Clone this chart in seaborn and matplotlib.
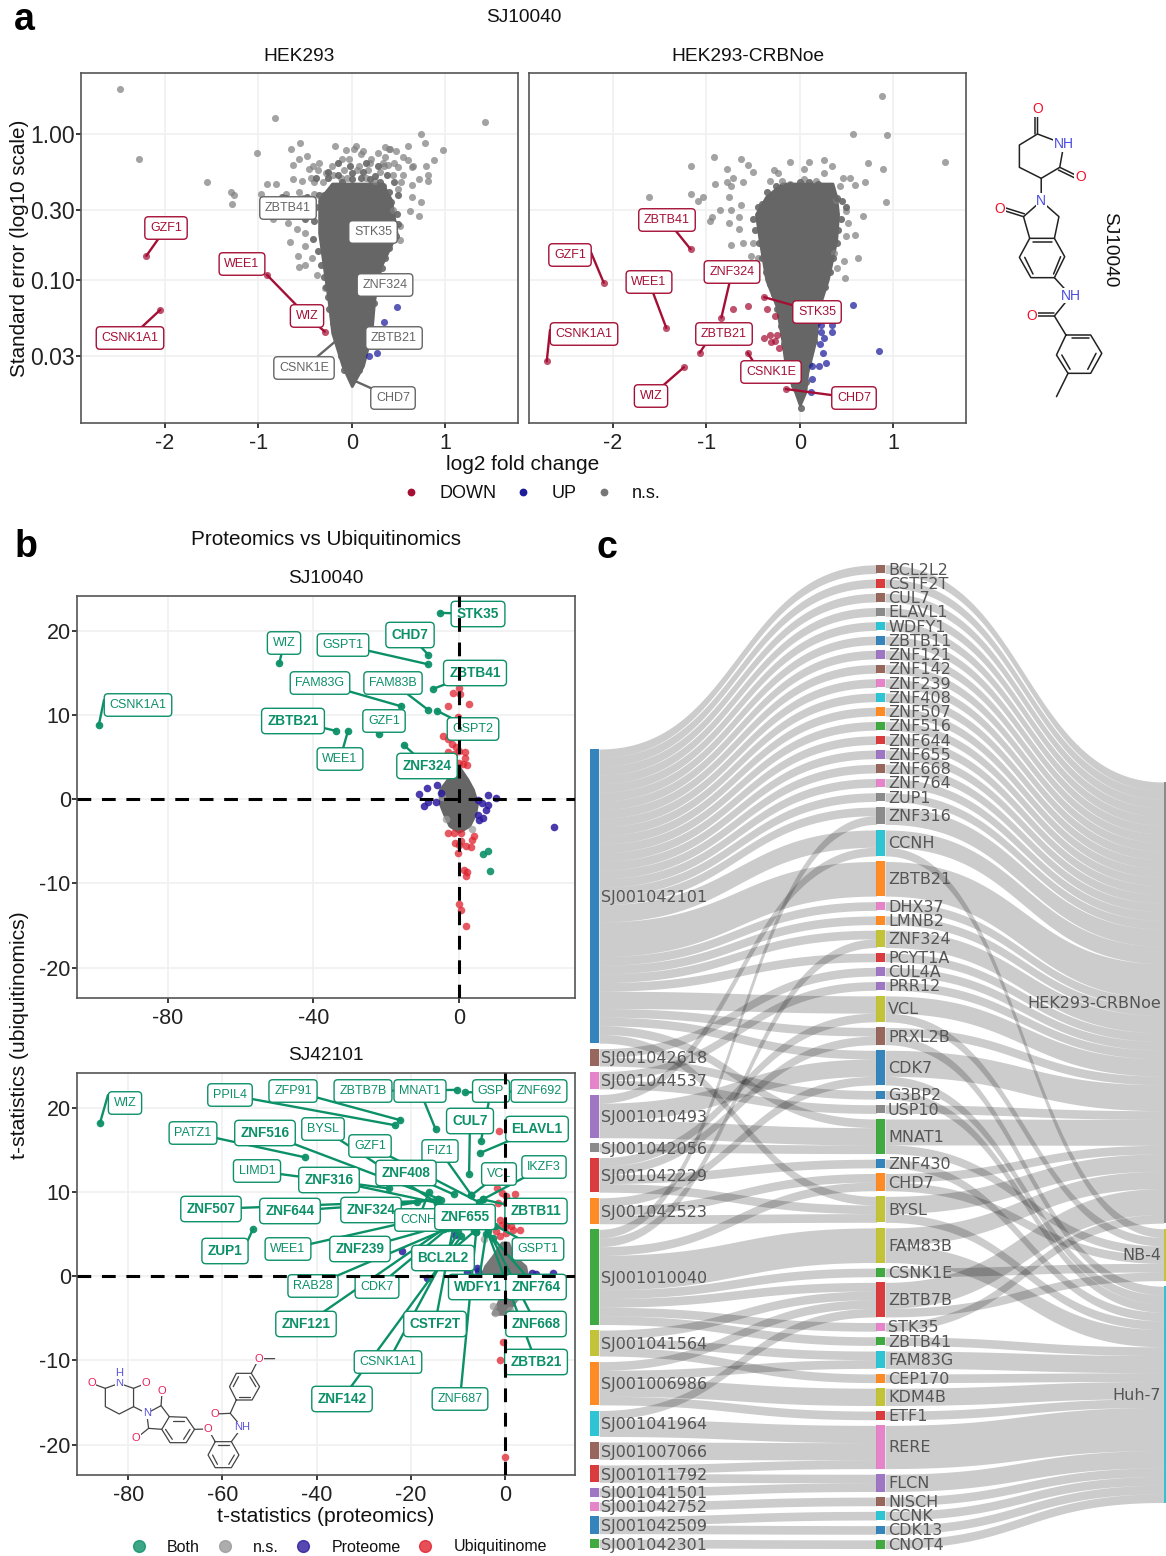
import numpy as np
import pandas as pd
import matplotlib
matplotlib.use("Agg")
import matplotlib.pyplot as plt
from matplotlib.lines import Line2D
from matplotlib.transforms import Affine2D
import seaborn as sns

# ---------------------------------------------------------------- data: panel a
fc_ticks = [-2, -1, 0, 1]
fc_tick_labels = ["-2", "-1", "0", "1"]
se_ticks = [1.0, 0.3, 0.1, 0.03]
se_tick_labels = ["1.00", "0.30", "0.10", "0.03"]

hek_ns_fc = [-2.48,-2.28,-1.55,-1.29,-1.26,-1.28,-.82,-1.01,1.43,.74,.78,.98,.88,.79,.82,.82,.72,.74,.72,.62,.65,.6,.36,.41,.05,-.18,-.06,
             -.56,-.65,-.48,-.57,-.63,-.91,-.81,-.63,-.53,-.41,-.31,-.46,-.36,-.21,-.11,-.03,.1,.21,.36,.55,.6,.66,.39,.17,.3,.44,.55,.64,.53,.64,.5,-.08,.06,
             -.97,-.7,-.57,-.41,-.84,-.68,-.59,-.5,-.66,-.5,-.58,-.57,-.5,-.43,-.37,-.29,.52,.52,.44,
             .12,.2,.28,.34,.45,.5,.15,.25,.33,-.12,-.2,-.28,-.35,-.42,-.52,-.44,.02,-.05,.08,.4,.47]
hek_ns_logse = [.31,-.17,-.33,-.40,-.42,-.48,.11,-.13,.08,0,-.06,-.11,-.18,-.22,-.28,-.32,-.31,-.47,-.56,-.53,-.43,-.08,-.09,-.1,-.08,-.08,-.11,
                -.06,-.1,-.15,-.17,-.21,-.34,-.34,-.31,-.32,-.33,-.33,-.24,-.25,-.22,-.17,-.17,-.14,-.17,-.16,-.16,-.18,-.22,-.21,-.25,-.26,-.28,-.28,-.23,-.33,-.35,-.38,-.25,-.25,
                -.41,-.41,-.40,-.41,-.58,-.61,-.65,-.68,-.74,-.77,-.84,-.91,-.9,-.85,-.97,-1.06,-.63,-.73,-.52,
                -.12,-.2,-.13,-.22,-.2,-.23,-.3,-.32,-.2,-.3,-.28,-.27,-.2,-.22,-.44,-.3,-.1,-.3,-.22,-.1,-.12]
hek_edge_fc = [-.38,-.4,-.42,-.36,-.33,-.3,-.28,-.26,-.24,-.2,-.16,-.12,-.08,.5,.47,.4,.36,.32,.3,.26,.24,.2,.17,.12,.08,
               -.2,-.1,0,.1,.2,.3,-.3,.4,-.15,0,.12,.25,-.25,.33,.42,-.35,-.45,.48,-.5,-.55,-.6,-.48,-.7,-.75,.45,.38,.28,.15,-.02,-.15,-.25,-.38,.5]
hek_edge_logse = [-.5,-.6,-.72,-.8,-.9,-.98,-1.05,-1.12,-1.2,-1.3,-1.42,-1.52,-1.62,-.62,-.7,-.78,-.85,-.92,-1.0,-1.08,-1.16,-1.27,-1.38,-1.5,-1.62,
                  -.36,-.33,-.31,-.3,-.31,-.33,-.42,-.4,-.28,-.27,-.26,-.29,-.3,-.36,-.47,-.42,-.5,-.55,-.58,-.55,-.47,-.43,-.44,-.43,-.33,-.28,-.22,-.2,-.22,-.2,-.26,-.3,-.42]
hek_mass_logse = [-1.73,-1.59,-1.365,-1.14,-.91,-.68,-.45,-.34]
hek_mass_lo = [0,-.10,-.21,-.25,-.30,-.35,-.35,-.21]
hek_mass_hi = [0,.12,.21,.24,.31,.48,.42,.33]
hek_up_fc = [.48,.34,.27,.18]
hek_up_logse = [-1.19,-1.29,-1.5,-1.52]
hek_labels = ["GZF1","CSNK1A1","WEE1","WIZ","ZBTB41","STK35","ZNF324","ZBTB21","CSNK1E","CHD7"]
hek_label_fc = [-2.2,-2.05,-.91,-.29,-.68,.22,.35,.45,-.18,0.0]
hek_label_logse = [-.836,-1.206,-.966,-1.356,-.507,-.67,-1.03,-1.4,-1.425,-1.685]
hek_label_down = [True,True,True,True,False,False,False,False,False,False]

crbn_ns_fc = [.88,.57,.93,1.56,.89,.73,.92,.68,.59,.62,.47,.48,.4,-.92,-.63,-1.17,-.78,-.55,-.5,-.11,.1,.26,.34,.04,-.91,-.78,-.72,-.61,-.74,-.76,
              -1.62,-1.17,-1.04,-1.09,-.85,-.74,-.63,-.94,-.96,-.76,-.65,-.65,-.74,-.61,-.5,-.52,-.45,-.28,-.19,-.32,-.23,-.1,.04,.17,.26,.46,.54,.59,.7,.43,.39,.5,.52,.5,.37]
crbn_ns_logse = [.26,0,-.01,-.19,-.24,-.2,-.47,-.56,-.69,-.85,-.87,-.99,-.92,-.16,-.17,-.22,-.24,-.21,-.26,-.19,-.19,-.18,-.22,-.24,-.34,-.33,-.3,-.33,-.36,-.43,
                 -.43,-.41,-.43,-.46,-.52,-.52,-.49,-.57,-.6,-.61,-.57,-.65,-.76,-.75,-.75,-.84,-.85,-.25,-.32,-.32,-.27,-.34,-.31,-.32,-.27,-.3,-.3,-.35,-.33,-.36,-.45,-.53,-.61,-.7,-.82]
crbn_edge_fc = [-.5,-.48,-.44,-.4,-.36,-.32,-.28,-.24,-.2,-.17,-.12,-.06,.44,.41,.4,.36,.32,.27,.22,.18,.15,.1,.07,
                -.4,-.3,-.2,-.1,0,.1,.2,.3,.4,-.35,-.25,.05,.45,.5,-.45,.01]
crbn_edge_logse = [-.58,-.66,-.75,-.85,-.95,-1.03,-1.1,-1.2,-1.32,-1.44,-1.6,-1.72,-.58,-.66,-.75,-.85,-.95,-1.05,-1.18,-1.3,-1.42,-1.58,-1.7,
                   -.48,-.42,-.37,-.35,-.33,-.33,-.34,-.37,-.44,-.4,-.36,-.38,-.46,-.5,-.5,-1.88]
crbn_mass_logse = [-1.86,-1.77,-1.64,-1.41,-1.18,-1.0,-.73,-.55,-.43,-.34]
crbn_mass_lo = [0,-.05,-.14,-.19,-.25,-.36,-.43,-.47,-.36,-.19]
crbn_mass_hi = [0,.06,.08,.17,.21,.30,.39,.41,.39,.35]
crbn_down_fc = [-.71,-.55,-.35,-.27,-.38,-.32,-.24,-.31,-.27,-.22]
crbn_down_logse = [-1.2,-1.18,-1.2,-1.25,-1.4,-1.38,-1.38,-1.43,-1.42,-1.47]
crbn_up_fc = [.57,.85,.23,.34,.34,.23,.26,.22,.25,.28,.21,.13,.13,.12]
crbn_up_logse = [-1.17,-1.49,-1.31,-1.31,-1.36,-1.36,-1.4,-1.44,-1.5,-1.57,-1.59,-1.59,-1.68,-1.77]
crbn_labels = ["ZBTB41","GZF1","WEE1","ZNF324","CSNK1A1","ZBTB21","STK35","CSNK1E","WIZ","CHD7"]
crbn_label_fc = [-1.17,-2.1,-1.43,-.84,-2.71,-1.07,-.38,-.56,-1.24,-.15]
crbn_label_logse = [-.79,-1.02,-1.33,-1.26,-1.56,-1.5,-1.12,-1.5,-1.6,-1.75]

# ---------------------------------------------------------------- data: panel b
top_both_x = [8,6.6,8.4]
top_both_y = [-6.1,-6.5,-8.5]
top_prot_x = [26,10.3,-10.9,-8.7,-6.1,-4.9,-9.7,-8.5,-6.4,7.9,5.3,6.3,7.9,7.4,5.3,6.6,5.5]
top_prot_y = [-3.3,.1,.6,1.3,1.7,.7,-.8,-.4,-.4,.5,-.1,-.5,-.7,-1.3,-1.9,-2.2,-2.5]
top_ubi_x = [-1.7,-.1,.4,2.8,-3,-.4,-4.5,-3,-2,-.7,-3,.1,1.7,-1.5,1.7,1.1,2.2,-.1,-3,-1.5,.6,4.2,3.7,-1.1,.6,-.1,2,3.2,-.4,1.5,2.2,1.9,0,.6,2]
top_ubi_y = [12.6,13.2,12.5,11.3,11,9.8,7.5,7.1,6.5,6.2,5.6,5.7,5.6,5.3,4.9,4.2,4.1,4.3,-4,-4,-4,-4.4,-4.9,-5.2,-5,-5.4,-5.6,-5.7,-6.4,-8.4,-8.7,-9.1,-12.4,-13.1,-15]
top_ns_x = [3.7,-3.5,-4.6]
top_ns_y = [-3.6,-2.4,.3]
top_mass_y = [3.7,2.3,1.1,-.5,-1.7,-3.1,-3.8]
top_mass_lo = [0,-3,-5.1,-5.1,-4,-2.5,0]
top_mass_hi = [0,2.2,3.7,4.8,4.3,2.7,0]
top_labels = ["CSNK1A1","WIZ","WEE1","ZBTB21","GZF1","ZNF324","FAM83G","FAM83B","GSPT2","ZBTB41","GSPT1","CHD7","STK35"]
top_label_x = [-99,-49.4,-30.5,-33.8,-22,-15.1,-15.8,-8.5,-6.1,-7,-8.5,-8.4,-5.2]
top_label_y = [8.8,16.1,8.1,8.1,7.7,6.4,11,10.6,10.5,13.1,16,17.1,22.1]
top_bold = {"ZBTB21","ZNF324","ZBTB41","CHD7","STK35"}

low_labels = ["WIZ","PPIL4","ZFP91","ZBTB7B","GSP","ZNF692","MNAT1","CUL7","ELAVL1","PATZ1","ZNF516","BYSL","GZF1","FIZ1","LIMD1",
              "ZNF408","ZNF316","VCL","IKZF3","ZNF507","ZNF644","ZNF324","CCNH","ZNF655","ZBTB11","GSPT1","WEE1","ZUP1","ZNF239","BCL2L2",
              "RAB28","CDK7","WDFY1","ZNF764","ZNF121","CSTF2T","ZNF668","CSNK1A1","ZBTB21","ZNF142","ZNF687"]
low_label_x = [-86,-23.3,-22.2,-10.1,-5.1,-8.4,-14.7,-7.6,-5.3,-42.5,-14.1,-14.5,-5.6,-7.1,-24.6,
               -10.9,-14.5,-7.1,-4.7,-13.5,-18.6,-14.1,-16.1,-6.1,-4.7,-2,-16,-53.5,-13,-6.5,
               -11.5,-12,-4,-2.5,-13,-11,-3.5,-10,-4.2,-9.3,-6.1]
low_label_y = [18.2,17.9,18.5,22.1,16,21.8,17.4,12.1,14.6,14.1,9.2,8.7,8.8,9.6,10.4,
               9.7,8.7,9.6,9.1,9,8.8,9.2,10,5.2,9.1,6,7,5.6,6,5.3,
               5.8,5.7,5,4.5,5.6,5.7,5.4,5.2,6,4.7,5.2]
low_bold = {"CUL7","ELAVL1","ZNF516","ZNF408","ZNF316","ZNF507","ZNF644","ZNF324","ZNF655","ZBTB11","ZUP1","ZNF239","BCL2L2","WDFY1","ZNF764",
            "ZNF121","CSTF2T","ZNF668","ZBTB21","ZNF142"}
low_prot_x = [-21.8,-10.5,-16.5,-8.1,-5.9,-5.7,5.8,6.6,10.2]
low_prot_y = [3,4.9,-.2,.5,1,.6,.4,.3,.4]
low_ubi_x = [-1.2,-1.6,-.6,.2,-1.4,.2,-1,-.6,.2,1.4,3.3,1.8,-1.8,.2,-1,-.5,-1,0,2.1]
low_ubi_y = [17.2,10.5,9.9,9.5,8.7,8.7,6.7,6.1,5.9,5.9,5.5,5.5,5.3,5.1,4.7,-7.8,-10,-21.5,9.8]
low_ns_x = [-4.5,-2.2,1,2.2,-2.5]
low_ns_y = [4.4,-4.4,-4,-2.6,-3.6]
low_mass_y = [3.9,2.3,1.15,0,-1.2,-2.8,-4.4]
low_mass_lo = [-.6,-2.5,-4.1,-4.9,-1.8,-1,-2.5]
low_mass_hi = [.6,1.8,4.2,4.6,3,2.2,.2]

# ---------------------------------------------------------------- data: panel c
compounds = ["SJ001042101","SJ001042618","SJ001044537","SJ001010493","SJ001042056","SJ001042229","SJ001042523","SJ001010040","SJ001041564",
             "SJ001006986","SJ001041964","SJ001007066","SJ001011792","SJ001041501","SJ001042752","SJ001042509","SJ001042301"]
compound_tone = [0,5,6,4,7,3,1,2,8,1,9,5,3,4,6,0,2]
genes = ["BCL2L2","CSTF2T","CUL7","ELAVL1","WDFY1","ZBTB11","ZNF121","ZNF142","ZNF239","ZNF408","ZNF507","ZNF516","ZNF644","ZNF655","ZNF668","ZNF764","ZUP1",
         "ZNF316","CCNH","ZBTB21","DHX37","LMNB2","ZNF324","PCYT1A","CUL4A","PRR12","VCL","PRXL2B","CDK7","G3BP2","USP10","MNAT1","ZNF430","CHD7","BYSL",
         "FAM83B","CSNK1E","ZBTB7B","STK35","ZBTB41","FAM83G","CEP170","KDM4B","ETF1","RERE","FLCN","NISCH","CCNK","CDK13","CNOT4"]
gene_tone = [5,3,5,7,9,0,4,5,6,9,1,2,3,4,5,6,7,7,9,1,6,1,8,3,4,4,8,5,0,0,7,2,0,1,8,8,2,3,6,2,9,1,8,3,6,4,5,9,0,2]
cell_lines = ["HEK293-CRBNoe","NB-4","Huh-7"]
cell_tone = [7,8,9]
# compound index, gene name, count
compound_links = [(0,g,1) for g in genes[:17]] + [
    (0,"ZNF316",1),(7,"ZNF316",1),(0,"CCNH",2),(3,"CCNH",1),(0,"ZBTB21",4),(0,"DHX37",1),(0,"LMNB2",1),(0,"ZNF324",1),(7,"ZNF324",1),(0,"PCYT1A",1),
    (1,"CUL4A",1),(2,"PRR12",1),(0,"VCL",2),(5,"VCL",1),(0,"PRXL2B",1),(5,"PRXL2B",1),(0,"CDK7",1),(3,"CDK7",2),(6,"CDK7",1),(1,"G3BP2",1),
    (2,"USP10",1),(0,"MNAT1",1),(3,"MNAT1",2),(4,"MNAT1",1),(5,"ZNF430",1),(6,"CHD7",1),(7,"CHD7",1),(5,"BYSL",1),(6,"BYSL",1),(0,"BYSL",1),
    (7,"FAM83B",4),(7,"CSNK1E",1),(7,"ZBTB7B",1),(8,"ZBTB7B",1),(9,"ZBTB7B",1),(10,"ZBTB7B",1),(7,"STK35",1),(7,"ZBTB41",1),(8,"FAM83G",1),
    (9,"FAM83G",1),(8,"CEP170",1),(9,"KDM4B",2),(9,"ETF1",1),(10,"RERE",2),(11,"RERE",2),(12,"RERE",1),(12,"FLCN",1),(13,"FLCN",1),(14,"NISCH",1),
    (15,"CCNK",1),(15,"CDK13",1),(16,"CNOT4",1)]
# gene name, cell line index, count
cell_links = [(g,0,1) for g in genes[:17]] + [
    ("ZNF316",0,2),("CCNH",0,2),("CCNH",1,1),("ZBTB21",0,4),("DHX37",0,1),("LMNB2",0,1),("ZNF324",0,2),("PCYT1A",0,1),("CUL4A",0,1),("PRR12",0,1),
    ("VCL",0,2),("VCL",1,1),("PRXL2B",0,1),("PRXL2B",2,1),("CDK7",0,3),("CDK7",2,1),("G3BP2",2,1),("USP10",0,1),("MNAT1",0,3),("MNAT1",1,1),
    ("ZNF430",2,1),("CHD7",0,1),("CHD7",1,1),("BYSL",0,2),("BYSL",2,1),("FAM83B",0,2),("FAM83B",2,2),("CSNK1E",1,1),("ZBTB7B",0,3),("ZBTB7B",1,1),
    ("STK35",0,1),("ZBTB41",2,1),("FAM83G",2,2),("CEP170",2,1),("KDM4B",2,2),("ETF1",2,1),("RERE",2,5),("FLCN",2,2),("NISCH",2,1),("CCNK",2,1),
    ("CDK13",2,1),("CNOT4",2,1)]

# ---------------------------------------------------------------- style
W, H = 1166, 1556
sns.set_theme(style="whitegrid")
plt.rcParams["font.family"] = ["Liberation Sans", "DejaVu Sans"]
plt.rcParams.update({"axes.edgecolor": "#555555", "axes.linewidth": 1.2, "grid.color": "#f0f0f0", "grid.linewidth": 1.2,
                     "xtick.bottom": True, "ytick.left": True, "xtick.color": "#222222", "ytick.color": "#222222",
                     "xtick.major.size": 3.5, "ytick.major.size": 3.5, "text.color": "#111111"})
fig = plt.figure(figsize=(W / 100, H / 100), dpi=100, facecolor="white")
px = Affine2D().scale(1 / W, -1 / H).translate(0, 1) + fig.transFigure

C_GREY, C_MASS, C_DOWN, C_UP = "#808080", "#666666", "#a50f35", "#1c1c9c"
C_BOTH, C_PROT, C_UBI = "#0c9068", "#2a1a9e", "#e0222e"
TAB = sns.color_palette("tab10")


def axes_px(x0, y0, x1, y1):
    return fig.add_axes([x0 / W, 1 - y1 / H, (x1 - x0) / W, (y1 - y0) / H])


def dots(ax, x, y, color, s=26, alpha=0.72, z=3):
    frame = pd.DataFrame({"x": np.asarray(x, float), "y": np.asarray(y, float)})
    sns.scatterplot(data=frame, x="x", y="y", color=color, s=s, alpha=alpha, linewidth=0, ax=ax, legend=False, zorder=z)
    ax.set_xlabel("")
    ax.set_ylabel("")


def gene_label(ax, x, y, pos, color):
    ax.annotate("", xy=(x, y), xycoords="data", xytext=pos, textcoords=px, annotation_clip=False, zorder=4,
                arrowprops=dict(arrowstyle="-", color=color, lw=1.7, shrinkA=0, shrinkB=0))


def gene_box(ax, name, pos, color, bold=False, size=9.0):
    ax.text(pos[0], pos[1], name, transform=px, color=color, ha="center", va="center", clip_on=False, zorder=5,
            fontsize=size + (0.8 if bold else 0), fontweight="bold" if bold else "normal",
            bbox=dict(boxstyle="round,pad=0.42,rounding_size=0.3", fc="white", ec=color, lw=1.0))


# ---------------------------------------------------------------- panel a
ax_hek = axes_px(81, 73, 518, 423)
ax_crbn = axes_px(529, 73, 966, 423)
for ax in (ax_hek, ax_crbn):
    ax.set_xlim(-2.90, 1.78)
    ax.set_yscale("log")
    ax.set_ylim(0.0104, 2.62)
    ax.set_xticks(fc_ticks, fc_tick_labels, fontsize=15.5)
    ax.set_yticks(se_ticks)
    ax.minorticks_off()
    ax.set_axisbelow(True)

ax_hek.set_yticklabels(se_tick_labels, fontsize=16.5)
ax_crbn.set_yticklabels([])
ax_crbn.tick_params(axis="y", left=False)
ax_hek.tick_params(axis="y", pad=1)

ax_hek.fill_betweenx(10.0 ** np.array(hek_mass_logse), hek_mass_lo, hek_mass_hi, color=C_MASS, lw=2, zorder=3)
dots(ax_hek, hek_ns_fc, 10.0 ** np.array(hek_ns_logse), C_GREY)
dots(ax_hek, hek_edge_fc, 10.0 ** np.array(hek_edge_logse), C_MASS, alpha=.9)
dots(ax_hek, hek_up_fc, 10.0 ** np.array(hek_up_logse), C_UP)
for n, x, ly, d in zip(hek_labels, hek_label_fc, hek_label_logse, hek_label_down):
    if d:
        dots(ax_hek, [x], [10.0 ** ly], C_DOWN)

hek_pos = dict(GZF1=(166,228), CSNK1A1=(130,338), WEE1=(242,264), WIZ=(307,316), ZBTB41=(288,208), STK35=(373,232),
               ZNF324=(385,285), ZBTB21=(394,338), CSNK1E=(304,368), CHD7=(393,398))
# the WEE1 segment leaves from the WIZ box in the reference
hek_start = dict(hek_pos, WEE1=(307, 316))
for n, x, ly, d in zip(hek_labels, hek_label_fc, hek_label_logse, hek_label_down):
    gene_label(ax_hek, x, 10.0 ** ly, hek_start[n], C_DOWN if d else "#666666")
for n, d in zip(hek_labels, hek_label_down):
    gene_box(ax_hek, n, hek_pos[n], C_DOWN if d else "#666666")

ax_crbn.fill_betweenx(10.0 ** np.array(crbn_mass_logse), crbn_mass_lo, crbn_mass_hi, color=C_MASS, lw=2, zorder=3)
dots(ax_crbn, crbn_ns_fc, 10.0 ** np.array(crbn_ns_logse), C_GREY)
dots(ax_crbn, crbn_edge_fc, 10.0 ** np.array(crbn_edge_logse), C_MASS, alpha=.9)
dots(ax_crbn, crbn_up_fc, 10.0 ** np.array(crbn_up_logse), C_UP)
dots(ax_crbn, crbn_down_fc, 10.0 ** np.array(crbn_down_logse), C_DOWN)
dots(ax_crbn, crbn_label_fc, 10.0 ** np.array(crbn_label_logse), C_DOWN)
crbn_pos = dict(ZBTB41=(667,220), GZF1=(570,255), WEE1=(649,282), ZNF324=(732,272), CSNK1A1=(584,334), ZBTB21=(724,334),
                STK35=(817,312), CSNK1E=(771,372), WIZ=(651,396), CHD7=(854,398))
crbn_start = dict(crbn_pos, CSNK1A1=(550,330), GZF1=(590,250), ZBTB21=(712,334), CSNK1E=(760,372))
for n, x, ly in zip(crbn_labels, crbn_label_fc, crbn_label_logse):
    gene_label(ax_crbn, x, 10.0 ** ly, crbn_start[n], C_DOWN)
for n in crbn_labels:
    gene_box(ax_crbn, n, crbn_pos[n], C_DOWN)

# ---------------------------------------------------------------- panel b
ax_top = axes_px(77, 596, 575, 998)
ax_low = axes_px(77, 1073, 575, 1475)
ax_top.set_xlim(-105, 31.9)
ax_low.set_xlim(-90.9, 14.9)
for ax in (ax_top, ax_low):
    ax.set_ylim(-23.6, 24.1)
    ax.set_yticks([20, 10, 0, -10, -20], ["20", "10", "0", "-10", "-20"], fontsize=15.5)
    ax.set_axisbelow(True)
    ax.tick_params(axis="y", pad=1)
ax_top.set_xticks([-80, -40, 0], ["-80", "-40", "0"], fontsize=15.5)
ax_low.set_xticks([-80, -60, -40, -20, 0], ["-80", "-60", "-40", "-20", "0"], fontsize=15.5)

ax_top.fill_betweenx(top_mass_y, top_mass_lo, top_mass_hi, color=C_MASS, lw=3, zorder=3)
dots(ax_top, top_ns_x, top_ns_y, "#999999", s=30)
dots(ax_top, top_prot_x, top_prot_y, C_PROT, s=30, alpha=.85)
dots(ax_top, top_ubi_x, top_ubi_y, C_UBI, s=30, alpha=.75)
dots(ax_top, top_both_x, top_both_y, C_BOTH, s=30, alpha=.9)
dots(ax_top, top_label_x, top_label_y, C_BOTH, s=30, alpha=.95)
top_pos = dict(STK35=(478,614), CHD7=(410,635), WIZ=(284,643), GSPT1=(343,645), ZBTB41=(475,673), FAM83G=(320,683), FAM83B=(393,683),
               CSNK1A1=(138,705), ZBTB21=(293,721), GZF1=(384,721), GSPT2=(473,729), WEE1=(340,759), ZNF324=(427,766))
top_start = dict(top_pos, CSNK1A1=(104,700))
for n, x, y in zip(top_labels, top_label_x, top_label_y):
    gene_label(ax_top, x, y, top_start[n], C_BOTH)
for n in top_labels:
    gene_box(ax_top, n, top_pos[n], C_BOTH, n in top_bold)

ax_low.fill_betweenx(low_mass_y, low_mass_lo, low_mass_hi, color="#777777", lw=3, zorder=3)
dots(ax_low, low_ns_x, low_ns_y, "#999999", s=30)
dots(ax_low, low_prot_x, low_prot_y, C_PROT, s=30, alpha=.85)
dots(ax_low, low_ubi_x, low_ubi_y, C_UBI, s=30, alpha=.75)
dots(ax_low, low_label_x, low_label_y, C_BOTH, s=30, alpha=.95)
low_pos = dict(WIZ=(125,1103), PPIL4=(230,1095), ZFP91=(293,1091), ZBTB7B=(363,1091), MNAT1=(420,1091), GSP=(491,1091), ZNF692=(539,1091),
               CUL7=(470,1121), ELAVL1=(537,1129), PATZ1=(193,1133), ZNF516=(265,1133), BYSL=(323,1129), GZF1=(370,1146), FIZ1=(440,1151),
               LIMD1=(257,1171), ZNF408=(406,1173), ZNF316=(329,1180), VCL=(499,1174), IKZF3=(544,1167), ZNF507=(211,1209), ZNF644=(290,1211),
               ZNF324=(371,1210), CCNH=(418,1220), ZNF655=(465,1217), ZBTB11=(536,1211), GSPT1=(538,1249), WEE1=(288,1249), ZUP1=(225,1251),
               ZNF239=(360,1249), BCL2L2=(443,1258), RAB28=(313,1286), CDK7=(377,1287), WDFY1=(478,1287), ZNF764=(536,1287), ZNF121=(306,1324),
               CSTF2T=(435,1324), ZNF668=(536,1324), CSNK1A1=(388,1362), ZBTB21=(536,1362), ZNF142=(342,1399), ZNF687=(460,1399))
low_start = dict(low_pos, WIZ=(108,1095), ZUP1=(248,1240))
for n, x, y in zip(low_labels, low_label_x, low_label_y):
    gene_label(ax_low, x, y, low_start[n], C_BOTH)
for n in low_labels:
    gene_box(ax_low, n, low_pos[n], C_BOTH, n in low_bold)

for ax in (ax_top, ax_low):
    ax.axhline(0, color="black", lw=2.2, ls=(0, (4.5, 3.5)), zorder=6)
    ax.axvline(0, color="black", lw=2.2, ls=(0, (4.5, 3.5)), zorder=6)

# ---------------------------------------------------------------- panel c (Sankey laid out from the link counts)
ax_s = axes_px(585, 555, 1166, 1556)
ax_s.set_xlim(585, 1166)
ax_s.set_ylim(1556, 555)
ax_s.axis("off")
UNIT, GAP = 8.65, 5.6
XL = (590, 599)
XM = (876.5, 885)
XR = 1163.5


def node_spans(totals, top):
    spans, y = [], top
    for t in totals:
        spans.append((y, y + t * UNIT))
        y += t * UNIT + GAP
    return spans


g_idx = {g: i for i, g in enumerate(genes)}
c_tot = np.zeros(len(compounds))
g_tot = np.zeros(len(genes))
r_tot = np.zeros(len(cell_lines))
for c, g, n in compound_links:
    c_tot[c] += n
    g_tot[g_idx[g]] += n
for g, r, n in cell_links:
    r_tot[r] += n
c_span = node_spans(c_tot, 749)
g_span = node_spans(g_tot, 564.8)
r_span = node_spans(r_tot, 782)


def ribbon(x0, x1, a0, a1, b0, b1):
    t = np.linspace(0, 1, 80)
    xc = (x0 + x1) / 2
    xs = (1 - t) ** 3 * x0 + 3 * (1 - t) ** 2 * t * xc + 3 * (1 - t) * t ** 2 * xc + t ** 3 * x1
    ease = 3 * t ** 2 - 2 * t ** 3
    ax_s.fill_between(xs, a0 + (b0 - a0) * ease, a1 + (b1 - a1) * ease, color="black", alpha=.2, lw=0, zorder=2)


def draw_links(links, src_span, dst_span, x0, x1):
    src_c = [sum(s) / 2 for s in src_span]
    dst_c = [sum(s) / 2 for s in dst_span]
    out_y = [s[0] for s in src_span]
    in_y = [s[0] for s in dst_span]
    placed = {}
    for k in sorted(range(len(links)), key=lambda k: dst_c[links[k][1]]):
        s, d, n = links[k]
        placed[k] = [out_y[s], out_y[s] + n * UNIT]
        out_y[s] += n * UNIT
    for k in sorted(range(len(links)), key=lambda k: src_c[links[k][0]]):
        s, d, n = links[k]
        placed[k] += [in_y[d], in_y[d] + n * UNIT]
        in_y[d] += n * UNIT
    for k in range(len(links)):
        a0, a1, b0, b1 = placed[k]
        ribbon(x0, x1, a0, a1, b0, b1)


draw_links([(c, g_idx[g], n) for c, g, n in compound_links], c_span, g_span, XL[1], XM[0])
draw_links([(g_idx[g], r, n) for g, r, n in cell_links], g_span, r_span, XM[1], XR)


def node_bars(spans, x0, x1, tones):
    for (a, b), t in zip(spans, tones):
        ax_s.fill_between([x0, x1], a, b, color=TAB[t], lw=0, alpha=.9, zorder=3)


node_bars(c_span, XL[0], XL[1], compound_tone)
node_bars(g_span, XM[0], XM[1], gene_tone)
node_bars(r_span, XR, 1166, cell_tone)
lab = dict(family="DejaVu Sans", fontsize=11.5, color="#555555", va="center", zorder=4)
for name, (a, b) in zip(compounds, c_span):
    ax_s.text(601, (a + b) / 2 + 1.5, name, ha="left", **lab)
for name, (a, b) in zip(genes, g_span):
    ax_s.text(888, (a + b) / 2 + 1, name, ha="left", **lab)
for name, (a, b) in zip(cell_lines, r_span):
    ax_s.text(1161, (a + b) / 2 + 1, name, ha="right", **lab)

# ---------------------------------------------------------------- overlay: titles, letters, molecules
ov = fig.add_axes([0, 0, 1, 1], facecolor="none", zorder=20)
ov.set_xlim(0, W)
ov.set_ylim(H, 0)
ov.axis("off")


def t(x, y, s, size=13.8, **kw):
    ov.text(x, y, s, fontsize=size, ha=kw.pop("ha", "center"), va=kw.pop("va", "center"), **kw)


t(524, 17, "SJ10040")
t(299, 56, "HEK293")
t(748, 56, "HEK293-CRBNoe")
t(523, 464, "log2 fold change", 15)
t(20, 248, "Standard error (log10 scale)", 14.9, rotation=90)
t(24, 20, "a", 27, fontweight="bold", color="black")
t(26, 547, "b", 27, fontweight="bold", color="black")
t(607, 548, "c", 27, fontweight="bold", color="black")
t(326, 539, "Proteomics vs Ubiquitinomics", 14.9)
t(326, 578, "SJ10040")
t(326, 1055, "SJ42101")
t(326, 1516, "t-statistics (proteomics)", 15.2)
t(20, 1035, "t-statistics (ubiquitinomics)", 15.2, rotation=90)
t(1110, 250, "SJ10040", 13.8, rotation=-90)

legend_a = [Line2D([], [], ls="", marker="o", ms=4.6, color=c, label=l) for c, l in ((C_DOWN, "DOWN"), (C_UP, "UP"), ("#777777", "n.s."))]
fig.legend(handles=legend_a, loc="center", bbox_to_anchor=(529 / W, 1 - 494 / H), ncol=3, frameon=False, fontsize=13,
           handletextpad=0.8, columnspacing=0.75, handlelength=1.5)
legend_b = [Line2D([], [], ls="", marker="o", ms=8.5, color=c, alpha=.8, label=l)
            for c, l in ((C_BOTH, "Both"), ("#999999", "n.s."), (C_PROT, "Proteome"), (C_UBI, "Ubiquitinome"))]
fig.legend(handles=legend_b, loc="center", bbox_to_anchor=(337 / W, 1 - 1547 / H), ncol=4, frameon=False, fontsize=11.5,
           handletextpad=1.0, columnspacing=0.8, handlelength=1.5)


def mol(conv, chains, doubles, atoms, lw=1.1, color="#222222"):
    for chain in chains:
        p = np.array([conv(*q) for q in chain])
        ov.plot(p[:, 0], p[:, 1], color=color, lw=lw, solid_capstyle="round", zorder=1)
    for (a, b, off) in doubles:
        pa, pb = np.array(conv(*a)), np.array(conv(*b))
        d = pb - pa
        nrm = np.array([-d[1], d[0]]) / np.hypot(*d) * off
        ov.plot([pa[0] + nrm[0], pb[0] + nrm[0]], [pa[1] + nrm[1], pb[1] + nrm[1]], color=color, lw=lw, zorder=1)
    for (x, y, s, c, fs) in atoms:
        xx, yy = conv(x, y)
        ov.text(xx, yy, s, color=c, fontsize=fs, ha="center", va="center", zorder=2,
                bbox=dict(fc="white", ec="none", pad=0.4))


conv_a = lambda x, y: (520 + x / 2.427, 40 + y / 3)
R, B = "#f0102a", "#4a4adf"
mol(conv_a,
    [[(1256,208),(1256,282),(1320,312),(1310,382),(1360,412)],
     [(1256,282),(1212,315),(1212,382),(1265,415),(1310,382)],
     [(1265,415),(1265,483),(1222,530),(1165,508)],
     [(1265,483),(1308,530),(1297,595),(1237,595),(1222,530)],
     [(1237,595),(1212,652),(1240,713),(1297,713),(1322,650),(1297,595)],
     [(1297,713),(1337,767),(1297,828),(1242,828)],
     [(1297,828),(1325,885),(1385,885),(1412,940),(1385,1000),(1330,1000),(1302,945),(1325,885)],
     [(1330,1000),(1302,1070)]],
    [((1249,208),(1249,282),0), ((1310,382),(1360,412),3), ((1222,530),(1165,508),3),
     ((1245,605),(1290,605),0), ((1225,652),(1245,702),0), ((1295,702),(1312,650),0), ((1297,828),(1242,828),3),
     ((1340,895),(1380,895),0), ((1398,940),(1378,988),0), ((1335,988),(1315,945),0)],
    [(1256,208,"O",R,10), (1320,312,"NH",B,10), (1360,412,"O",R,10), (1265,483,"N",B,10), (1165,508,"O",R,10),
     (1337,767,"NH",B,10), (1242,828,"O",R,10)])

conv_b = lambda x, y: (x / 2.658, 1040 + y / 3)
R2, B2 = "#e8205a", "#5a50d8"
mol(conv_b,
    [[(243,1030),(280,1045),(317,1030),(355,1045),(388,1030)],
     [(280,1045),(280,1100),(317,1122),(355,1100),(355,1045)],
     [(355,1100),(390,1120),(428,1097),(431,1052)],
     [(428,1097),(450,1130),(430,1168),(395,1165),(390,1120)],
     [(395,1165),(362,1195)],
     [(450,1130),(495,1132),(517,1168),(495,1208),(452,1208),(430,1168)],
     [(517,1168),(553,1167),(572,1205),(615,1205),(635,1245),(615,1283),(572,1283),(553,1245),(572,1205)],
     [(615,1205),(643,1162),(612,1120),(570,1122)],
     [(612,1120),(628,1080),(670,1080),(690,1040),(668,1000),(628,1000),(610,1040),(628,1080)],
     [(668,1000),(688,956),(730,956)]],
    [((460,1142),(490,1142),0), ((505,1168),(488,1198),0), ((458,1198),(440,1168),0), ((580,1215),(610,1215),0),
     ((623,1245),(608,1273),0), ((578,1273),(565,1245),0), ((636,1070),(664,1070),0), ((680,1040),(664,1010),0), ((634,1010),(620,1040),0)],
    [(243,1030,"O",R2,8), (317,1030,"N",B2,8), (317,1000,"H",B2,8), (388,1030,"O",R2,8), (390,1120,"N",B2,8), (431,1052,"O",R2,8),
     (362,1195,"O",R2,8), (553,1167,"O",R2,8), (643,1162,"NH",B2,8), (570,1122,"O",R2,8), (688,956,"O",R2,8)],
    lw=.9, color="#444444")

fig.savefig("out.png", dpi=100)
